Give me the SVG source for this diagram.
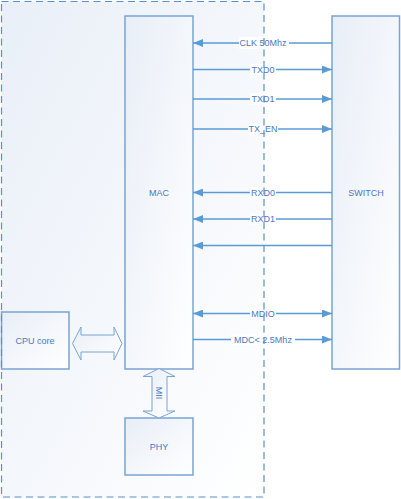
<svg xmlns="http://www.w3.org/2000/svg" width="401" height="499" viewBox="0 0 401 499">
<defs>
<linearGradient id="bg" x1="0" y1="0" x2="1" y2="1">
<stop offset="0" stop-color="#e9eff8"/>
<stop offset="1" stop-color="#ffffff"/>
</linearGradient>
<linearGradient id="boxg" x1="0" y1="0" x2="1" y2="1">
<stop offset="0" stop-color="#e8eef7"/>
<stop offset="1" stop-color="#ffffff"/>
</linearGradient>
<marker id="ah" viewBox="0 0 10 8" refX="10" refY="4" markerWidth="10" markerHeight="8" markerUnits="userSpaceOnUse" orient="auto-start-reverse">
<path d="M0,0 L10,4 L0,8 z" fill="#5b9bd5"/>
</marker>
<style>
.box{fill:url(#boxg);stroke:#7aa4d2;stroke-width:1.5}
.lbl{font-family:"Liberation Sans",Arial,sans-serif;font-size:9px;fill:#4a78c0;text-anchor:middle;dominant-baseline:central}
.wire{stroke:#5b9bd5;stroke-width:1.3;fill:none}
.bg{fill:#ffffff}
.fat{fill:url(#boxg);stroke:#7aa4d2;stroke-width:1}
.dash{fill:none;stroke:#5b8fc9;stroke-width:1.2;stroke-dasharray:7,4.5}
</style>
</defs>
<rect x="0" y="0" width="401" height="499" fill="#ffffff"/>
<g id="container">
<rect x="1.5" y="1.5" width="262.5" height="495.5" fill="url(#bg)"/>
</g>
<g id="mac"><rect class="box" x="125" y="16" width="68" height="353"/><text class="lbl" x="159" y="193">MAC</text></g>
<g id="switch"><rect class="box" x="332" y="16" width="67.5" height="353"/><text class="lbl" x="366" y="193">SWITCH</text></g>
<g id="cpu"><rect class="box" x="1.5" y="312" width="67.5" height="57"/><text class="lbl" x="35" y="341">CPU core</text></g>
<g id="phy"><rect class="box" x="125" y="418" width="68" height="57"/><text class="lbl" x="159" y="447">PHY</text></g>
<g id="connectors">
<line class="wire" x1="332" y1="43" x2="193" y2="43" marker-end="url(#ah)"/>
<line class="wire" x1="193" y1="69.5" x2="332" y2="69.5" marker-end="url(#ah)"/>
<line class="wire" x1="193" y1="99" x2="332" y2="99" marker-end="url(#ah)"/>
<line class="wire" x1="193" y1="129" x2="332" y2="129" marker-end="url(#ah)"/>
<line class="wire" x1="332" y1="192.5" x2="193" y2="192.5" marker-end="url(#ah)"/>
<line class="wire" x1="332" y1="219" x2="193" y2="219" marker-end="url(#ah)"/>
<line class="wire" x1="332" y1="245.5" x2="193" y2="245.5" marker-end="url(#ah)"/>
<line class="wire" x1="193" y1="313.5" x2="332" y2="313.5" marker-start="url(#ah)" marker-end="url(#ah)"/>
<line class="wire" x1="193" y1="339.5" x2="332" y2="339.5" marker-end="url(#ah)"/>
<rect class="bg" x="239" y="37" width="50" height="12"/><text class="lbl" x="263" y="43">CLK 50Mhz</text>
<rect class="bg" x="250" y="64" width="26" height="11"/><text class="lbl" x="263" y="69.5">TXD0</text>
<rect class="bg" x="250" y="93.5" width="26" height="11"/><text class="lbl" x="263" y="99">TXD1</text>
<rect class="bg" x="248" y="123.5" width="30" height="11"/><text class="lbl" x="263" y="129">TX_EN</text>
<rect class="bg" x="250" y="187" width="26" height="11"/><text class="lbl" x="263" y="192.5">RXD0</text>
<rect class="bg" x="250" y="213.5" width="26" height="11"/><text class="lbl" x="263" y="219">RXD1</text>
<rect class="bg" x="250" y="308" width="26" height="11"/><text class="lbl" x="263" y="313.5">MDIO</text>
<rect class="bg" x="231" y="334" width="64" height="11"/><text class="lbl" x="263" y="339.5">MDC&lt; 2.5Mhz</text>
<path class="fat" d="M72.5,343.5 L81,327 L81,335 L114,335 L114,327 L122,343.5 L114,360 L114,352 L81,352 L81,360 Z"/>
<path class="fat" d="M159,368.5 L175,376.5 L167,376.5 L167,411 L175,411 L159,418 L143,411 L152,411 L152,376.5 L143,376.5 Z"/>
<text class="lbl" x="159" y="393" transform="rotate(90 159 393)">MII</text>
</g>
<g id="container-border">
<rect class="dash" x="1.5" y="1.5" width="262.5" height="495.5"/>
</g>
</svg>
